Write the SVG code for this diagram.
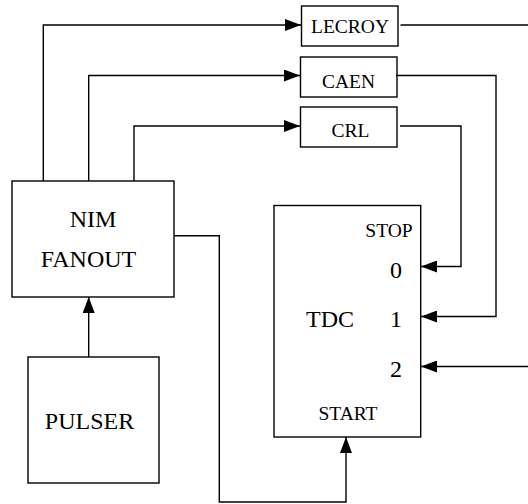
<svg xmlns="http://www.w3.org/2000/svg" width="528" height="504" viewBox="0 0 528 504" font-family="'Liberation Serif', 'Times New Roman', Times, serif">
<style>
.box{fill:#fff;stroke:#000;stroke-width:1.4}
.ln{fill:none;stroke:#000;stroke-width:1.4}
text{font-family:'Liberation Serif','Times New Roman',Times,serif;fill:#000;text-anchor:middle}
.s{font-size:19.5px}
.b{font-size:24px}
</style>
<defs>
<marker id="ah" viewBox="0 0 16 12" refX="16" refY="6" markerWidth="16" markerHeight="12" markerUnits="userSpaceOnUse" orient="auto">
<path d="M0,0 L16,6 L0,12 Z" fill="#000"/>
</marker>
</defs>
<g id="lecroy"><rect class="box" x="301.5" y="6" width="96.5" height="40"/><text class="s" x="350" y="32.5">LECROY</text></g>
<g id="caen"><rect class="box" x="300.5" y="57" width="96.5" height="40"/><text class="s" x="348.5" y="87.5">CAEN</text></g>
<g id="crl"><rect class="box" x="300.5" y="107" width="96.5" height="40"/><text class="s" x="350.5" y="136.5">CRL</text></g>
<g id="nim"><rect class="box" x="12" y="181" width="162" height="116"/><text class="b" x="93" y="226.5">NIM</text><text class="b" x="88.5" y="266.5">FANOUT</text></g>
<g id="pulser"><rect class="box" x="28" y="357" width="131" height="126"/><text class="b" x="89.5" y="428.5">PULSER</text></g>
<g id="tdc"><rect class="box" x="274" y="205.5" width="146.7" height="231.5"/>
<text class="s" x="389" y="236.5">STOP</text>
<text class="b" x="396" y="277.5">0</text>
<text class="b" x="330" y="326.5">TDC</text>
<text class="b" x="396" y="326.5">1</text>
<text class="b" x="396" y="377">2</text>
<text class="s" x="348" y="419.5">START</text></g>
<g id="connectors">
<polyline class="ln" points="43.3,181 43.3,25 301,25" marker-end="url(#ah)"/>
<polyline class="ln" points="88.7,181 88.7,75.5 300,75.5" marker-end="url(#ah)"/>
<polyline class="ln" points="134,181 134,126 300,126" marker-end="url(#ah)"/>
<polyline class="ln" points="400.5,25 540,25 540,366.5 421,366.5" marker-end="url(#ah)"/>
<polyline class="ln" points="396,75.5 496,75.5 496,316.5 421,316.5" marker-end="url(#ah)"/>
<polyline class="ln" points="400,126 461,126 461,266.5 421,266.5" marker-end="url(#ah)"/>
<polyline class="ln" points="174,235.7 219.3,235.7 219.3,502 346,502 346,437" marker-end="url(#ah)"/>
<polyline class="ln" points="88.7,357 88.7,297" marker-end="url(#ah)"/>
</g>
</svg>
